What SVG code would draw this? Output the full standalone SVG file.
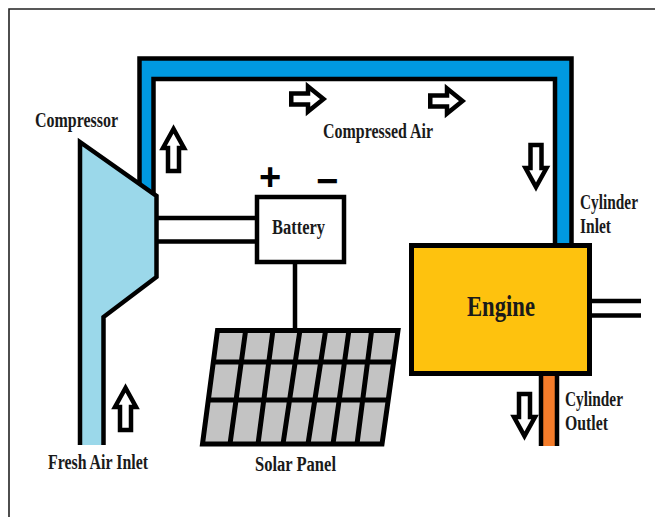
<svg xmlns="http://www.w3.org/2000/svg" width="655" height="517" viewBox="0 0 655 517">
<style>
.l{font-family:"Liberation Serif","Times New Roman",serif;font-weight:bold;font-size:20px;fill:#1a1a1a}
.k{fill:none;stroke:#000;stroke-width:4.5}
.a{fill:#fff;stroke:#000;stroke-width:4.5;stroke-linejoin:miter}
.s{font-family:"Liberation Sans",Arial,sans-serif;font-weight:bold;font-size:38px;fill:#000;text-anchor:middle}
</style>
<defs>
<polygon id="up" class="a" points="0,5 -10.5,24 -5.5,24 -5.5,47 5.500,47 5.500,24 10.500,24"/>
<polygon id="right" class="a" points="2.250,-5.500 19,-5.500 19,-12.500 34.500,0 19,12.500 19,5.500 2.250,5.500"/>
</defs>
<rect width="655" height="517" fill="#fff"/>
<path d="M9 517V9H655" fill="none" stroke="#222" stroke-width="1.6"/>
<g id="connectors">
<path d="M139.500 185V58.500H571V245H555V79H153.500V195Z" fill="#0099e0"/>
<path class="k" d="M139.500 185V58.500H571.500V245"/>
<path class="k" d="M153.500 195V79H555V245"/>
<path class="k" d="M158 218H256M158 241.500H256M295 262V330M590 301H641M590 315.500H641"/>
<rect x="541" y="376" width="16" height="70" fill="#f47c2a"/>
<path class="k" d="M541 376V446M557 376V446"/>
</g>
<g id="compressor">
<path d="M80 445V142L156.500 196V277L103.500 317V445" fill="#9bd8ea" stroke="#000" stroke-width="4.500"/>
<text class="l" x="35" y="127" textLength="83" lengthAdjust="spacingAndGlyphs">Compressor</text>
</g>
<g id="battery">
<rect x="257" y="197" width="87" height="65" fill="#fff" stroke="#000" stroke-width="4.500"/>
<text class="l" x="272" y="234" textLength="53" lengthAdjust="spacingAndGlyphs">Battery</text>
<text class="s" x="270" y="190">+</text>
<text class="s" x="327" y="194">−</text>
</g>
<g id="solar-panel">
<polygon points="217.500,330.500 398,330.500 382,444 202.500,444" fill="#c3c3c3" stroke="#000" stroke-width="5"/>
<path class="k" style="stroke-width:5" d="M212 362H394M207 400H388M245.700 330L230 444M273 330L258 444M300 330L283 444M325.700 330L308 444M349 330L333 444M371.700 330L357 444"/>
<text class="l" x="255" y="471" textLength="81" lengthAdjust="spacingAndGlyphs">Solar Panel</text>
</g>
<g id="engine">
<rect x="411.500" y="245.500" width="178" height="128" fill="#fec20e" stroke="#000" stroke-width="5"/>
<text class="l" x="467" y="316" textLength="68" lengthAdjust="spacingAndGlyphs" style="font-size:29px">Engine</text>
</g>
<g id="arrows">
<use href="#up" x="173.500" y="124"/>
<use href="#up" x="125.500" y="383"/>
<use href="#up" transform="translate(536 192) rotate(180)"/>
<use href="#up" transform="translate(524.500 441) rotate(180)"/>
<use href="#right" x="289" y="99"/>
<use href="#right" x="428" y="101"/>
</g>
<g id="labels">
<text class="l" x="323" y="138" textLength="110" lengthAdjust="spacingAndGlyphs">Compressed Air</text>
<text class="l" x="580" y="209" textLength="58" lengthAdjust="spacingAndGlyphs">Cylinder</text>
<text class="l" x="580" y="233" textLength="31" lengthAdjust="spacingAndGlyphs">Inlet</text>
<text class="l" x="565" y="406" textLength="58" lengthAdjust="spacingAndGlyphs">Cylinder</text>
<text class="l" x="565" y="430" textLength="43" lengthAdjust="spacingAndGlyphs">Outlet</text>
<text class="l" x="48" y="469" textLength="100" lengthAdjust="spacingAndGlyphs">Fresh Air Inlet</text>
</g>
</svg>
